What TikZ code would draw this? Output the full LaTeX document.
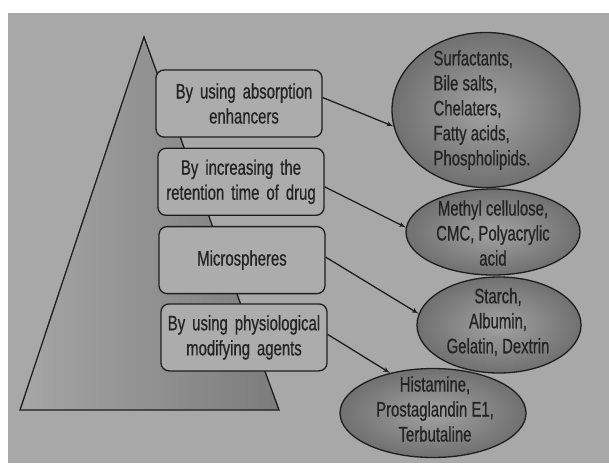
\documentclass[tikz,border=0pt]{standalone}
\usepackage{fontspec}
\setmainfont{Liberation Sans}[FakeStretch=0.71,FakeBold=0.6]
\usetikzlibrary{arrows,shapes.geometric,positioning}

\definecolor{bgGray}{RGB}{168,168,168}
\definecolor{boxGray}{RGB}{172,172,172}
\definecolor{triLight}{RGB}{166,166,166}
\definecolor{triDark}{RGB}{124,124,124}
\definecolor{ellLight}{RGB}{162,162,162}
\definecolor{ellDark}{RGB}{112,112,112}
\definecolor{lineGray}{RGB}{30,30,30}
\definecolor{txtGray}{RGB}{35,35,35}

\begin{document}
\begin{tikzpicture}[x=1pt,y=-1pt,->,>=latex',line width=1.3pt,
                    font=\fontsize{21}{25}\selectfont]
  \tikzstyle{method}=[rectangle,rounded corners=8pt,draw=lineGray,fill=boxGray,
                      text width=160pt,minimum height=67pt,inner sep=3pt,
                      align=center,text=txtGray]
  \tikzstyle{agent}=[ellipse,draw=lineGray,inner color=ellLight,outer color=ellDark,
                     inner sep=0pt]
  \tikzstyle{agenttext}=[inner sep=0pt,text=txtGray]
  \tikzstyle{every edge}=[draw=lineGray]

  \useasboundingbox (0,0) rectangle (609,463);
  \fill[bgGray] (8,13) rectangle (609,463);

  % pyramid behind the boxes
  \shade[draw=lineGray,-,left color=triLight,right color=triDark]
    (20,410) -- (144,37) -- (279,410) -- cycle;

  \node[method] (enh)                            at (239,103.5) {\hspace*{10pt}By using absorption\\\hspace*{10pt}enhancers};
  \node[method] (ret)  [below=10pt of enh,xshift=2pt]  {By increasing the\\retention time of drug};
  \node[method] (mic)  [below=10pt of ret,xshift=1pt]  {Microspheres};
  \node[method] (phy)  [below=9pt of mic,xshift=2pt]   {By using physiological\\modifying agents};

  \node[agent,minimum width=188pt,minimum height=155pt] (surf) at (486,110) {};
  \node[agent,minimum width=174pt,minimum height=86pt]  (meth) at (493,232) {};
  \node[agent,minimum width=164pt,minimum height=96pt]  (star) at (499,325) {};
  \node[agent,minimum width=186pt,minimum height=89pt]  (hist) at (433,413) {};

  \node[agenttext,align=left]   (surftxt) at (482,110) {Surfactants,\\Bile salts,\\Chelaters,\\Fatty acids,\\Phospholipids.};
  \node[agenttext,align=center] (methtxt) at (493,233) {Methyl cellulose,\\CMC, Polyacrylic\\acid};
  \node[agenttext,align=center] (startxt) at (498,322) {Starch,\\Albumin,\\Gelatin, Dextrin};
  \node[agenttext,align=center] (histtxt) at (435,409) {Histamine,\\Prostaglandin E1,\\Terbutaline};

  \path ([yshift=6pt]enh.east)  edge (surf.190)
        ([yshift=-5pt]ret.east) edge (meth.177)
        ([yshift=3pt]mic.east)  edge (star.172)
        ([yshift=3pt]phy.east)  edge (hist.137);
\end{tikzpicture}
\end{document}
